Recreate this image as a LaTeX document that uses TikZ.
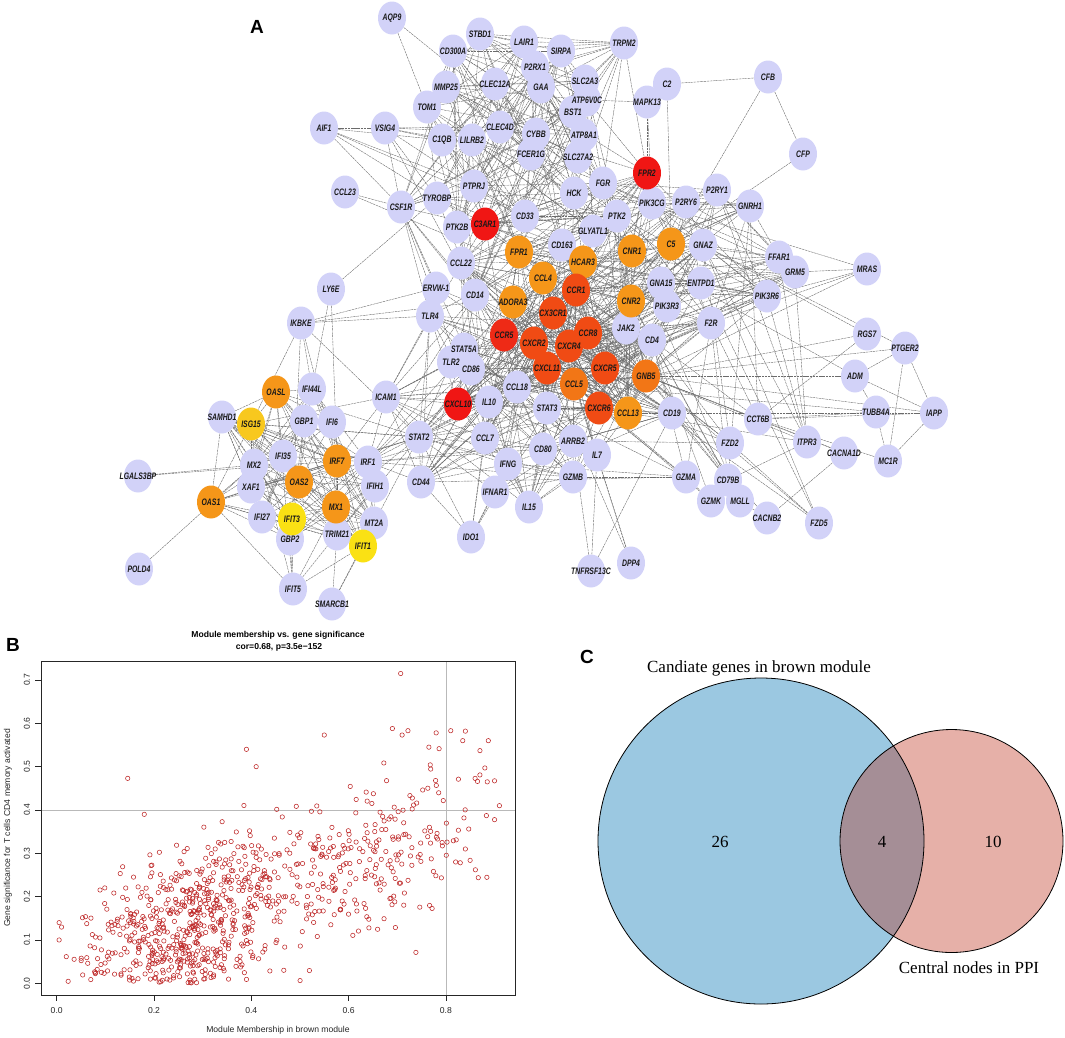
\documentclass[tikz,border=0pt]{standalone}
\usepackage{fontspec}
\usetikzlibrary{shapes.geometric,backgrounds}
\pgfdeclarelayer{fills}
\pgfsetlayers{background,fills,main}
\newfontfamily\nodefont[FakeStretch=0.73]{Liberation Sans}
\newfontfamily\arialf{Liberation Sans}
\newfontfamily\timesf{Liberation Serif}
\definecolor{lav}{RGB}{210,210,248}
\definecolor{cRed}{RGB}{240,22,20}
\definecolor{cRedB}{RGB}{238,42,22}
\definecolor{cRO}{RGB}{240,75,20}
\definecolor{cOR}{RGB}{242,118,22}
\definecolor{cOrg}{RGB}{245,150,25}
\definecolor{cGold}{RGB}{248,200,30}
\definecolor{cYel}{RGB}{250,225,20}
\definecolor{dotc}{RGB}{190,40,40}
\definecolor{vblue}{RGB}{155,200,225}
\definecolor{vpink}{RGB}{230,176,168}
\definecolor{vmix}{RGB}{165,142,150}
\tikzset{
  gbase/.style={ellipse, minimum width=28pt, minimum height=33pt, inner sep=0pt,
     font={\nodefont\fontsize{9.4pt}{10pt}\selectfont\bfseries\itshape}, text=black!90,
     execute at begin node={\hbox to 0pt\bgroup\hss}, execute at end node={\hss\egroup},
     append after command={\pgfextra{\begin{pgfonlayer}{fills}\fill[#1] (\tikzlastnode.center) ellipse [x radius=14pt, y radius=16.5pt];\end{pgfonlayer}}}},
  gn/.style={gbase=lav},
  rd/.style={gbase=cRed},
  rdb/.style={gbase=cRedB},
  ro/.style={gbase=cRO},
  orr/.style={gbase=cOR},
  og/.style={gbase=cOrg},
  gd/.style={gbase=cGold},
  yl/.style={gbase=cYel},
  lnk/.style={draw=black!58, line width=0.4pt, dash pattern=on 2.5pt off 0.7pt},
  dot/.style={draw=dotc, line width=0.55pt},
  panel/.style={font={\arialf\fontsize{19pt}{21pt}\selectfont\bfseries}, inner sep=0pt},
  axt/.style={font={\arialf\fontsize{8.6pt}{10pt}\selectfont}, inner sep=0pt, text=black!85},
  ttl/.style={font={\arialf\fontsize{8.6pt}{10pt}\selectfont\bfseries}, inner sep=0pt},
  vtx/.style={font={\timesf\fontsize{17pt}{19pt}\selectfont}, inner sep=0pt},
}
\newcommand\clusteredges[2]{%
  \foreach \ea [count=\ei] in {#1}{%
    \foreach \eb [count=\ej] in {#1}{%
      \ifnum\ej>\ei
        \pgfmathtruncatemacro\ehit{rnd<#2 ? 1 : 0}%
        \ifnum\ehit=1 \draw[lnk] (\ea) -- (\eb);\fi
      \fi
    }%
  }%
}
\begin{document}
\begin{tikzpicture}[x=1pt,y=-1pt]
\useasboundingbox (0,0) rectangle (1065,1037);

% ---------------- Panel A ----------------
\node[panel] (labA) at (257,27) {A};
\node[gn] (AQP9) at (392,18) {AQP9};
\node[gn] (STBD1) at (480,34) {STBD1};
\node[gn] (CD300A) at (453,51) {CD300A};
\node[gn] (LAIR1) at (524,42) {LAIR1};
\node[gn] (SIRPA) at (561,51) {SIRPA};
\node[gn] (TRPM2) at (624,43) {TRPM2};
\node[gn] (P2RX1) at (535,67) {P2RX1};
\node[gn] (MMP25) at (446,87) {MMP25};
\node[gn] (CLEC12A) at (495,84) {CLEC12A};
\node[gn] (GAA) at (541,87) {GAA};
\node[gn] (SLC2A3) at (585,81) {SLC2A3};
\node[gn] (C2) at (667,84) {C2};
\node[gn] (CFB) at (768,77) {CFB};
\node[gn] (ATP6V0C) at (587,100) {ATP6V0C};
\node[gn] (MAPK13) at (647,102) {MAPK13};
\node[gn] (TOM1) at (427,107) {TOM1};
\node[gn] (BST1) at (573,112) {BST1};
\node[gn] (AIF1) at (324,128) {AIF1};
\node[gn] (VSIG4) at (385,128) {VSIG4};
\node[gn] (CLEC4D) at (500,127) {CLEC4D};
\node[gn] (CYBB) at (536,134) {CYBB};
\node[gn] (ATP8A1) at (584,135) {ATP8A1};
\node[gn] (C1QB) at (442,140) {C1QB};
\node[gn] (LILRB2) at (472,140) {LILRB2};
\node[gn] (FCER1G) at (531,154) {FCER1G};
\node[gn] (SLC27A2) at (578,157) {SLC27A2};
\node[gn] (CFP) at (803,154) {CFP};
\node[gn] (PTPRJ) at (474,186) {PTPRJ};
\node[gn] (FGR) at (603,183) {FGR};
\node[gn] (HCK) at (574,193) {HCK};
\node[gn] (P2RY1) at (717,190) {P2RY1};
\node[gn] (CCL23) at (345,192) {CCL23};
\node[gn] (TYROBP) at (437,198) {TYROBP};
\node[gn] (PIK3CG) at (652,203) {PIK3CG};
\node[gn] (P2RY6) at (686,202) {P2RY6};
\node[gn] (GNRH1) at (750,206) {GNRH1};
\node[gn] (CSF1R) at (401,207) {CSF1R};
\node[gn] (CD33) at (525,216) {CD33};
\node[gn] (PTK2) at (617,216) {PTK2};
\node[gn] (PTK2B) at (457,227) {PTK2B};
\node[gn] (GLYATL1) at (593,231) {GLYATL1};
\node[gn] (CD163) at (562,245) {CD163};
\node[gn] (GNAZ) at (703,245) {GNAZ};
\node[gn] (FFAR1) at (779,257) {FFAR1};
\node[gn] (CCL22) at (461,263) {CCL22};
\node[gn] (GRM5) at (795,272) {GRM5};
\node[gn] (MRAS) at (867,269) {MRAS};
\node[gn] (GNA15) at (661,283) {GNA15};
\node[gn] (ENTPD1) at (701,283) {ENTPD1};
\node[gn] (ERVW1) at (436,288) {ERVW-1};
\node[gn] (LY6E) at (331,289) {LY6E};
\node[gn] (CD14) at (475,295) {CD14};
\node[gn] (PIK3R6) at (767,296) {PIK3R6};
\node[gn] (PIK3R3) at (667,306) {PIK3R3};
\node[gn] (TLR4) at (430,316) {TLR4};
\node[gn] (F2R) at (711,323) {F2R};
\node[gn] (IKBKE) at (301,323) {IKBKE};
\node[gn] (JAK2) at (626,328) {JAK2};
\node[gn] (RGS7) at (867,334) {RGS7};
\node[gn] (CD4) at (652,340) {CD4};
\node[gn] (PTGER2) at (905,348) {PTGER2};
\node[gn] (STAT5A) at (464,349) {STAT5A};
\node[gn] (TLR2) at (451,362) {TLR2};
\node[gn] (CD86) at (471,369) {CD86};
\node[gn] (ADM) at (855,376) {ADM};
\node[gn] (CCL18) at (517,387) {CCL18};
\node[gn] (IFI44L) at (312,389) {IFI44L};
\node[gn] (ICAM1) at (386,397) {ICAM1};
\node[gn] (IL10) at (489,402) {IL10};
\node[gn] (STAT3) at (547,408) {STAT3};
\node[gn] (TUBB4A) at (876,412) {TUBB4A};
\node[gn] (IAPP) at (934,413) {IAPP};
\node[gn] (CD19) at (672,413) {CD19};
\node[gn] (SAMHD1) at (222,417) {SAMHD1};
\node[gn] (CCT6B) at (758,419) {CCT6B};
\node[gn] (GBP1) at (304,421) {GBP1};
\node[gn] (IFI6) at (332,422) {IFI6};
\node[gn] (STAT2) at (419,437) {STAT2};
\node[gn] (CCL7) at (485,438) {CCL7};
\node[gn] (ARRB2) at (573,441) {ARRB2};
\node[gn] (ITPR3) at (807,442) {ITPR3};
\node[gn] (FZD2) at (730,443) {FZD2};
\node[gn] (CD80) at (543,449) {CD80};
\node[gn] (CACNA1D) at (844,453) {CACNA1D};
\node[gn] (IL7) at (597,455) {IL7};
\node[gn] (IFI35) at (283,456) {IFI35};
\node[gn] (MC1R) at (888,461) {MC1R};
\node[gn] (IRF1) at (368,462) {IRF1};
\node[gn] (IFNG) at (508,464) {IFNG};
\node[gn] (MX2) at (254,465) {MX2};
\node[gn] (LGALS3BP) at (138,476) {LGALS3BP};
\node[gn] (GZMB) at (573,477) {GZMB};
\node[gn] (GZMA) at (686,477) {GZMA};
\node[gn] (CD79B) at (728,480) {CD79B};
\node[gn] (CD44) at (421,482) {CD44};
\node[gn] (IFIH1) at (375,486) {IFIH1};
\node[gn] (XAF1) at (251,487) {XAF1};
\node[gn] (IFNAR1) at (495,492) {IFNAR1};
\node[gn] (GZMK) at (711,501) {GZMK};
\node[gn] (MGLL) at (740,501) {MGLL};
\node[gn] (IL15) at (529,507) {IL15};
\node[gn] (IFI27) at (262,517) {IFI27};
\node[gn] (CACNB2) at (767,518) {CACNB2};
\node[gn] (MT2A) at (374,523) {MT2A};
\node[gn] (FZD5) at (819,523) {FZD5};
\node[gn] (TRIM21) at (337,534) {TRIM21};
\node[gn] (IDO1) at (471,537) {IDO1};
\node[gn] (GBP2) at (290,539) {GBP2};
\node[gn] (DPP4) at (631,563) {DPP4};
\node[gn] (POLD4) at (139,569) {POLD4};
\node[gn] (TNFRSF13C) at (591,571) {TNFRSF13C};
\node[gn] (IFIT5) at (293,589) {IFIT5};
\node[gn] (SMARCB1) at (332,604) {SMARCB1};
% coloured hub nodes
\node[og] (FPR1) at (519,252) {FPR1};
\node[og] (C5) at (671,244) {C5};
\node[og] (CNR1) at (632,251) {CNR1};
\node[og] (HCAR3) at (583,262) {HCAR3};
\node[og] (CCL4) at (543,278) {CCL4};
\node[og] (ADORA3) at (513,302) {ADORA3};
\node[og] (CNR2) at (631,301) {CNR2};
\node[ro] (CCR1) at (576,290) {CCR1};
\node[ro] (CX3CR1) at (553,313) {CX3CR1};
\node[ro] (CCR8) at (588,333) {CCR8};
\node[rdb] (CCR5) at (504,335) {CCR5};
\node[ro] (CXCR2) at (534,343) {CXCR2};
\node[ro] (CXCR4) at (569,346) {CXCR4};
\node[ro] (CXCL11) at (547,368) {CXCL11};
\node[ro] (CXCR5) at (605,368) {CXCR5};
\node[orr] (GNB5) at (646,376) {GNB5};
\node[orr] (CCL5) at (574,384) {CCL5};
\node[ro] (CXCR6) at (599,408) {CXCR6};
\node[og] (CCL13) at (628,413) {CCL13};
\node[rd] (CXCL10) at (458,404) {CXCL10};
\node[rd] (FPR2) at (647,173) {FPR2};
\node[rd] (C3AR1) at (485,224) {C3AR1};
\node[og] (OASL) at (276,392) {OASL};
\node[gd] (ISG15) at (251,424) {ISG15};
\node[og] (IRF7) at (337,461) {IRF7};
\node[og] (OAS2) at (299,482) {OAS2};
\node[og] (OAS1) at (211,502) {OAS1};
\node[og] (MX1) at (336,507) {MX1};
\node[yl] (IFIT3) at (292,519) {IFIT3};
\node[yl] (IFIT1) at (363,546) {IFIT1};

\begin{scope}[on background layer]
\pgfmathsetseed{11}
\clusteredges{TYROBP,FCER1G,CYBB,LILRB2,CLEC4D,CLEC12A,C1QB,HCK,FGR,PTPRJ,CD33,SIRPA,LAIR1,CD300A,STBD1,GAA,ATP6V0C,BST1,SLC2A3,P2RX1,MMP25,TOM1,ATP8A1,SLC27A2,CSF1R,PTK2B,C3AR1,FPR2,FPR1,CD163,PTK2,GLYATL1,CD14,CCL22}{0.3}
\clusteredges{FPR2,C3AR1,FPR1,C5,CNR1,CNR2,HCAR3,ADORA3,P2RY6,P2RY1,GNAZ,GNA15,PIK3CG,PIK3R3,PIK3R6,F2R,GNRH1,FFAR1,GRM5,GNB5,CCR1,CCR5,CX3CR1,CXCR2,CXCR4,CCR8,CXCR5,CXCR6,CCL5,CCL4,CCL13,CXCL11,CXCL10,ENTPD1,JAK2,PTK2,HCK,FGR}{0.33}
\clusteredges{CCL22,CD14,TLR4,TLR2,STAT5A,CD86,CCL18,IL10,CXCL10,STAT3,CCL7,CD80,ARRB2,IL7,IFNG,IFNAR1,IL15,GZMB,CD4,JAK2,CD19,CCL5,CXCR4,CCR5,ICAM1,CD44,STAT2,IRF1,CD163,CCL4,CXCL11,CCR1,CXCR6,CXCR5,CCL13,CX3CR1,CXCR2}{0.26}
\clusteredges{CCR1,CCR5,CX3CR1,CXCR2,CXCR4,CCR8,CXCR5,CXCR6,CCL5,CCL4,CCL13,CXCL11,CXCL10,ADORA3,HCAR3,CNR2,GNB5,FPR1,CCL18,CCL7,CCL22,STAT3,JAK2,CD4}{0.5}
\clusteredges{OASL,ISG15,SAMHD1,IFI44L,GBP1,IFI6,IFI35,IRF7,MX2,XAF1,OAS2,OAS1,IFI27,IFIT3,MX1,GBP2,TRIM21,IFIT1,MT2A,IFIH1,IRF1,STAT2}{0.55}
\foreach \ea/\eb in {AQP9/CYBB, AQP9/TOM1,
 AIF1/VSIG4, AIF1/TYROBP, AIF1/C1QB, AIF1/CSF1R, AIF1/PTPRJ, AIF1/CD33,
 VSIG4/C1QB, VSIG4/CSF1R, VSIG4/TYROBP, VSIG4/FCER1G, VSIG4/CLEC4D, VSIG4/ATP8A1, VSIG4/CD163, VSIG4/CD14,
 CCL23/CSF1R, CCL23/CCR1,
 CSF1R/TYROBP, CSF1R/CD14, CSF1R/TLR4, CSF1R/ERVW1, CSF1R/IL10, CSF1R/CD163, CSF1R/CCL7, CSF1R/CCR5,
 LY6E/TYROBP, LY6E/IFI44L,
 ERVW1/TLR4, ERVW1/CCR5, ERVW1/IKBKE,
 IKBKE/TLR4, IKBKE/ISG15, IKBKE/IFIT3, IKBKE/CCR1, IKBKE/IRF7,
 LGALS3BP/IRF7, LGALS3BP/MX2, POLD4/MX2,
 SAMHD1/OAS1, SAMHD1/IRF7, SAMHD1/XAF1, SAMHD1/ISG15, SAMHD1/MX1,
 OAS1/IFIT5, OAS1/GBP2, OAS1/ISG15, OAS1/MX2, OAS1/IRF7, OAS1/IFIT1,
 IFIT5/IFIT3, IFIT5/ISG15, IFIT5/IFIT1, IFIT5/MX1, IFIT5/OASL, IFIT5/GBP2, IFIT5/TRIM21,
 SMARCB1/TRIM21, SMARCB1/IFIT1, SMARCB1/MT2A,
 ICAM1/STAT2, ICAM1/CD44, ICAM1/CXCL10, ICAM1/IRF1, ICAM1/IL10, ICAM1/TLR4, ICAM1/CCR5, ICAM1/IFNG, ICAM1/CCL5, ICAM1/IRF7, ICAM1/ISG15, ICAM1/CCL18, ICAM1/TLR2,
 STAT2/CXCL10, STAT2/IFNAR1, STAT2/IFNG, STAT2/STAT3, STAT2/ISG15, STAT2/OAS1, STAT2/IL10,
 CD44/IFNG, CD44/CCL5, CD44/CXCR4, CD44/IL10, CD44/STAT3, CD44/CCR5,
 CFB/C2, CFB/CFP, CFB/C5, CFP/C5, C2/C5, C2/MAPK13,
 MAPK13/FPR2, MAPK13/PIK3CG, MAPK13/ATP6V0C,
 TRPM2/FPR2, TRPM2/CYBB, TRPM2/BST1, TRPM2/SLC2A3, TRPM2/P2RX1, TRPM2/GAA, TRPM2/ATP8A1, TRPM2/HCK, TRPM2/CD300A, TRPM2/LAIR1, TRPM2/SIRPA, TRPM2/CLEC12A, TRPM2/STBD1, TRPM2/FGR, TRPM2/ATP6V0C,
 MRAS/PIK3R6, MRAS/F2R, MRAS/PIK3CG, MRAS/GNB5, MRAS/GRM5,
 RGS7/GNB5, RGS7/CCT6B, RGS7/GNAZ,
 PTGER2/ADM, PTGER2/IAPP, PTGER2/MC1R, PTGER2/GNB5, PTGER2/GNAZ,
 ADM/IAPP, ADM/TUBB4A, ADM/GNB5, ADM/CNR1,
 TUBB4A/MC1R, TUBB4A/CCT6B, TUBB4A/CCL5,
 IAPP/MC1R, IAPP/CCT6B, IAPP/GNB5, IAPP/CCL13,
 CCT6B/GNB5, CCT6B/CACNA1D, CCT6B/MC1R, CCT6B/CXCR4, CCT6B/CD4,
 ITPR3/CD79B, ITPR3/GNAZ, ITPR3/GNB5, ITPR3/P2RY1, ITPR3/CCL13,
 CACNA1D/CACNB2, CACNA1D/GNB5,
 FZD2/FZD5, FZD2/GNB5, FZD2/CCL5, FZD2/ARRB2, FZD2/CD4, FZD2/CCR8,
 FZD5/GNB5, FZD5/GNAZ, FZD5/CXCR4,
 GZMA/GZMB, GZMA/GZMK, GZMA/CCL5, GZMA/CD4, GZMA/STAT3, GZMA/IFNG, GZMA/CXCR6,
 CD79B/CD19, CD79B/GNB5, CD79B/JAK2, CD79B/CD4, CD79B/F2R,
 GZMK/CD4, GZMK/CCL5, MGLL/CNR1, MGLL/CNR2, MGLL/CACNB2, CACNB2/GNB5,
 TNFRSF13C/IL7, TNFRSF13C/CD19, TNFRSF13C/ARRB2,
 DPP4/IL7, DPP4/CCL5, DPP4/CXCL11,
 IDO1/IFNG, IDO1/IFNAR1, IDO1/IL10, IDO1/STAT2, IDO1/CD44, IDO1/STAT3, IDO1/CCL7,
 IL15/IFNG, IL15/IL10, IL15/GZMB, IL15/STAT3, IL15/CCL5, IL15/IL7, IL15/CXCL10,
 GZMB/IL7, GZMB/IFNG, GZMB/CCL5, GZMB/CD80,
 CD19/CD4, CD19/CXCR5, CD19/ARRB2, CD19/CD80, CD19/CXCR4,
 IL7/ARRB2, IL7/CD4, IL7/STAT3, IL7/STAT5A, IL7/CCL13,
 P2RY1/P2RY6, GNRH1/CCT6B, F2R/CCT6B, F2R/GZMA, GRM5/ITPR3, FFAR1/ITPR3, GNRH1/CD79B, GNAZ/FZD2, PIK3R6/ITPR3, ENTPD1/FZD5,
 IKBKE/STAT2, IKBKE/IFI44L, LY6E/IRF7, ERVW1/GNB5, TLR4/GNB5, TLR2/CCL13, STAT5A/CD19, CD86/CD19, IL10/CD19, CXCL10/CD19, CXCL10/GNB5, CD44/GZMA, STAT2/GZMB, IRF1/GZMB, CCR5/F2R, CXCR4/F2R, CCR1/PIK3R6, CCL5/PIK3R6, CXCR2/F2R}
 {\draw[lnk] (\ea) -- (\eb);}
\end{scope}

% ---------------- Panel B ----------------
\node[panel] (labB) at (13,645) {B};
\node[ttl] (ttl1) at (278,635) {Module membership vs. gene significance};
\node[ttl] (ttl2) at (279,647) {cor=0.68, p=3.5e−152};
\begin{scope}
\clip (41,661) rectangle (515,995);
\draw[gray!55, line width=0.6pt] (41,810) -- (515,810);
\draw[gray!55, line width=0.6pt] (445.9,661) -- (445.9,995);
\pgfmathsetseed{7}
\foreach \k in {1,...,880}{
  \pgfmathsetmacro\sG{rand+rand+rand}
  \pgfmathsetmacro\sC{rnd}
  \pgfmathsetmacro\sM{\sC<0.7 ? 0.28+0.105*\sG : 0.64+0.12*\sG}
  \pgfmathsetmacro\sX{max(0.01,min(0.9,\sM))}
  \pgfmathsetmacro\sH{rand+rand+rand}
  \pgfmathsetmacro\sY{min(0.56,abs(0.02+0.42*\sX+0.09*\sH))}
  \draw[dot] ({56.7+486.5*\sX},{983.3-433.3*\sY}) circle (2.2pt);
}
\foreach \px/\py in {0.005/0.14, 0.005/0.10, 0.146/0.473, 0.18/0.39, 0.39/0.54, 0.41/0.50, 0.707/0.715, 0.55/0.573, 0.69/0.588, 0.71/0.573, 0.722/0.583, 0.78/0.578, 0.81/0.583, 0.84/0.582, 0.87/0.537, 0.88/0.497, 0.91/0.41, 0.765/0.545, 0.885/0.465, 0.86/0.473, 0.82/0.28, 0.84/0.31}
  {\draw[dot] ({56.7+486.5*\px},{983.3-433.3*\py}) circle (2.2pt);}
\end{scope}
\draw[black!85, line width=0.7pt] (41,661) rectangle (515,995);
\foreach \v/\t in {0/0.0,1/0.2,2/0.4,3/0.6,4/0.8}{
  \draw[black!85, line width=0.6pt] ({56.7+97.3*\v},995) -- ({56.7+97.3*\v},1001);
  \node[axt] (xt\v) at ({56.7+97.3*\v},1011) {\t};
}
\foreach \v/\t in {0/0.0,1/0.1,2/0.2,3/0.3,4/0.4,5/0.5,6/0.6,7/0.7}{
  \draw[black!85, line width=0.6pt] (41,{983.3-43.33*\v}) -- (35,{983.3-43.33*\v});
  \node[axt, rotate=90] (yt\v) at (27,{983.3-43.33*\v}) {\t};
}
\node[axt] (xlab) at (278,1030) {Module Membership in brown module};
\node[axt, rotate=90] (ylab) at (8,828) {Gene significance for T cells CD4 memory activated};

% ---------------- Panel C ----------------
\node[panel] (labC) at (587,657) {C};
\fill[vblue] (761,841) circle (163);
\fill[vpink] (951.5,841) circle (111.5);
\begin{scope}
\clip (761,841) circle (163);
\fill[vmix] (951.5,841) circle (111.5);
\end{scope}
\draw[black, line width=0.8pt] (761,841) circle (163);
\draw[black, line width=0.8pt] (951.5,841) circle (111.5);
\node[vtx] (vt1) at (759,668) {Candiate genes in brown module};
\node[vtx] (n26) at (720,842) {26};
\node[vtx] (n4) at (882,842) {4};
\node[vtx] (n10) at (993,842) {10};
\node[vtx] (vt2) at (969,968) {Central nodes in PPI};
\end{tikzpicture}
\end{document}
